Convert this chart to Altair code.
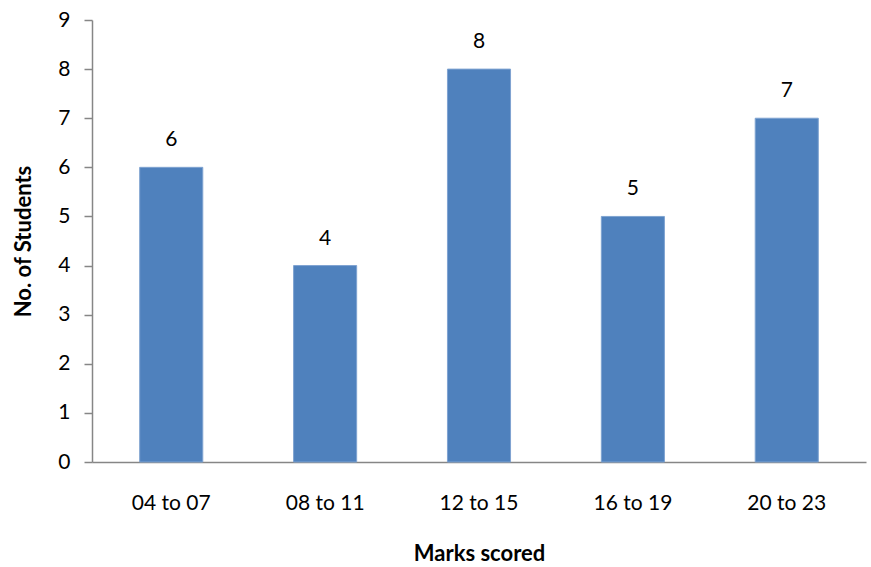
import altair as alt
import pandas as pd

categories = ["04 to 07", "08 to 11", "12 to 15", "16 to 19", "20 to 23"]
students = [6, 4, 8, 5, 7]

df = pd.DataFrame({"marks": categories, "students": students})

FONT = "Lato"

base = alt.Chart(df).encode(
    x=alt.X("marks:N", sort=categories,
            scale=alt.Scale(paddingInner=0.59, paddingOuter=0.31),
            axis=alt.Axis(title="Marks scored", labelAngle=0, ticks=False,
                          labelPadding=30, titlePadding=30, domainColor="#868686",
                          domainWidth=1.5)),
    y=alt.Y("students:Q", scale=alt.Scale(domain=[0, 9]),
            axis=alt.Axis(title="No. of Students", values=list(range(10)),
                          grid=False, tickSize=8, tickColor="#868686",
                          domainColor="#868686", domainWidth=1.5, tickWidth=1.5,
                          labelPadding=14, titlePadding=22)),
)

bars = base.mark_bar(color="#4F81BD", stroke="#7FA3D1", strokeWidth=1)
labels = base.mark_text(dy=-27, fontSize=21, font=FONT, color="#000000").encode(
    text="students:Q")

chart = (bars + labels).properties(
    width=774, height=442,
    autosize=alt.AutoSizeParams(type="none"),
    padding={"left": 92, "top": 20, "right": 5, "bottom": 105},
).configure_view(stroke=None).configure_axis(
    labelFont=FONT, titleFont=FONT, labelFontSize=21, titleFontSize=22,
    labelColor="#000000", titleColor="#000000", titleFontWeight="bold",
)

chart.save("out.html", embed_options={"renderer": "svg", "actions": False})
